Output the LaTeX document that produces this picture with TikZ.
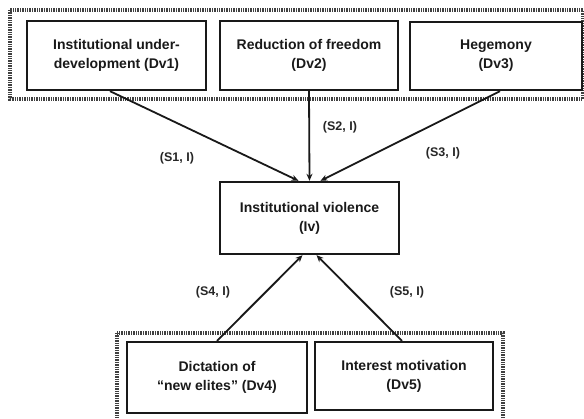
\documentclass[tikz,border=0pt]{standalone}
\usepackage{fontspec}
\setmainfont{Liberation Sans}
\usetikzlibrary{arrows.meta}
\begin{document}
\begin{tikzpicture}[x=1pt,y=-1pt,
  box/.style={draw=black!90,line width=2.4pt,fill=white,align=center,inner sep=0pt,
    font=\fontsize{14}{19}\selectfont\bfseries,text=black!90},
  group/.style={draw=black!75,line width=3.2pt,dash pattern=on 1.4pt off 1pt},
  conn/.style={line width=1.8pt,draw=black!90,-{Stealth[length=7pt,width=6pt]}},
  lab/.style={font=\fontsize{12.5}{14}\selectfont\bfseries,text=black!85}]
\useasboundingbox (0,0) rectangle (584,419);
\fill[white] (0,0) rectangle (584,419);
% groups
\draw[group] (10,10) rectangle (583,99);
\draw[group] (117,333) rectangle (503,425);
% boxes
\node[box,minimum width=179pt,minimum height=69pt] (b1) at (116.5,55.5) {Institutional under-\\development (Dv1)};
\node[box,minimum width=178pt,minimum height=69pt] (b2) at (309,55.5) {Reduction of freedom\\(Dv2)};
\node[box,minimum width=172pt,minimum height=68pt] (b3) at (496,56) {Hegemony\\(Dv3)};
\node[box,minimum width=179pt,minimum height=72pt] (iv) at (309.5,218) {Institutional violence\\(Iv)};
\node[box,minimum width=180pt,minimum height=71pt] (b4) at (217,377.5) {Dictation of\\``new elites'' (Dv4)};
\node[box,minimum width=178pt,minimum height=68pt] (b5) at (404,376) {Interest motivation\\(Dv5)};
% connectors
\draw[conn] ([xshift=-6.5pt]b1.south) -- ([xshift=-11pt]iv.north);
\draw[conn] (b2.south) -- (iv.north);
\draw[conn] ([xshift=4pt]b3.south) -- ([xshift=11pt]iv.north);
\draw[conn] (b4.north) -- ([xshift=-7pt]iv.south);
\draw[conn] ([xshift=-2pt]b5.north) -- ([xshift=7pt]iv.south);
% labels
\node[lab] (l1) at (177,158) {(S1, I)};
\node[lab] (l2) at (340,127) {(S2, I)};
\node[lab] (l3) at (443,153) {(S3, I)};
\node[lab] (l4) at (213,292) {(S4, I)};
\node[lab] (l5) at (407,292) {(S5, I)};
\end{tikzpicture}
\end{document}
